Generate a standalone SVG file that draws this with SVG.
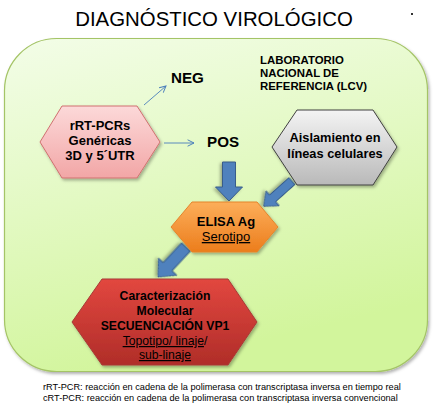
<svg xmlns="http://www.w3.org/2000/svg" width="433" height="409" viewBox="0 0 433 409">
<defs>
  <linearGradient id="gBg" x1="0" y1="0" x2="0.3" y2="1">
    <stop offset="0" stop-color="#f3fde8"/>
    <stop offset="1" stop-color="#d2f59c"/>
  </linearGradient>
  <linearGradient id="gPink" x1="0" y1="0" x2="0" y2="1">
    <stop offset="0" stop-color="#fcd9d9"/>
    <stop offset="1" stop-color="#f2a6a6"/>
  </linearGradient>
  <linearGradient id="gGray" x1="0" y1="0" x2="0" y2="1">
    <stop offset="0" stop-color="#f4f4f4"/>
    <stop offset="1" stop-color="#b9b9b9"/>
  </linearGradient>
  <linearGradient id="gOrange" x1="0" y1="0" x2="0" y2="1">
    <stop offset="0" stop-color="#fcae5a"/>
    <stop offset="1" stop-color="#ec7d1c"/>
  </linearGradient>
  <linearGradient id="gRed" x1="0" y1="0" x2="0" y2="1">
    <stop offset="0" stop-color="#e2473f"/>
    <stop offset="1" stop-color="#b02d29"/>
  </linearGradient>
  <filter id="sh" x="-10%" y="-10%" width="125%" height="130%">
    <feDropShadow dx="1.5" dy="2" stdDeviation="1.5" flood-color="#000" flood-opacity="0.3"/>
  </filter>
  <marker id="open" viewBox="0 0 10 10" refX="9" refY="5" markerWidth="8" markerHeight="8" markerUnits="userSpaceOnUse" orient="auto">
    <path d="M1,1 L9,5 L1,9" fill="none" stroke="#4a7ebb" stroke-width="1.2"/>
  </marker>
  <style>
    .t { font-family: "Liberation Sans", Arial, sans-serif; fill: #000; }
    .b { font-weight: bold; }
    .hex { filter: url(#sh); stroke-width: 1; }
    .blk { fill: #4f81bd; stroke: #385d8a; stroke-width: 1; filter: url(#sh); }
    .thin { stroke: #4a7ebb; stroke-width: 0.9; fill: none; marker-end: url(#open); }
    .u { text-decoration: underline; }
  </style>
</defs>

<rect width="433" height="409" fill="#ffffff"/>
<text class="t" x="214" y="26" font-size="20.4" text-anchor="middle">DIAGNÓSTICO VIROLÓGICO</text>
<rect x="411" y="13" width="2" height="2" fill="#333"/>

<g id="background">
  <rect x="4.5" y="38.5" width="423" height="333" rx="52" ry="52" fill="url(#gBg)" stroke="#a4c466" stroke-width="1.2" filter="url(#sh)"/>
</g>

<g id="lab-label">
  <text class="t b" font-size="11.4"><tspan x="260" y="64">LABORATORIO</tspan><tspan x="260" y="77">NACIONAL DE</tspan><tspan x="260" y="90">REFERENCIA (LCV)</tspan></text>
</g>

<g id="connectors">
  <line class="thin" x1="144" y1="105" x2="166" y2="86"/>
  <line class="thin" x1="164" y1="143" x2="194" y2="143"/>
  <path class="blk" transform="translate(229,162) rotate(90)" d="M0,-6.5 H25 V-13.5 L39,0 L25,13.5 V6.5 H0 Z"/>
  <path class="blk" transform="translate(292,181) rotate(138.2)" d="M0,-4.5 H26 V-10 L38,0 L26,10 V4.5 H0 Z"/>
  <path class="blk" transform="translate(186,247) rotate(133)" d="M0,-6 H27 V-12.5 L41,0 L27,12.5 V6 H0 Z"/>
</g>

<g id="neg">
  <text class="t b" x="171" y="83" font-size="15.2">NEG</text>
</g>
<g id="pos">
  <text class="t b" x="207" y="147" font-size="15.2">POS</text>
</g>

<g id="rrt-pcrs">
  <polygon class="hex" points="40,142 62,106 137,106 160,142 137,178 62,178" fill="url(#gPink)" stroke="#d07070"/>
  <text class="t b" font-size="13" text-anchor="middle"><tspan x="100" y="130">rRT-PCRs</tspan><tspan x="100" y="145">Genéricas</tspan><tspan x="100" y="160">3D y 5´UTR</tspan></text>
</g>

<g id="aislamiento">
  <polygon class="hex" points="272,147 297,110 373,110 397,147 373,185 297,185" fill="url(#gGray)" stroke="#404040"/>
  <text class="t b" font-size="12.8" text-anchor="middle"><tspan x="335" y="142">Aislamiento en</tspan><tspan x="335" y="158">líneas celulares</tspan></text>
</g>

<g id="elisa">
  <polygon class="hex" points="171,227 192,202 257,202 278,227 257,252 192,252" fill="url(#gOrange)" stroke="#e4842c"/>
  <text class="t b" x="226" y="226" font-size="13" text-anchor="middle">ELISA Ag</text>
  <text class="t u" x="226" y="241" font-size="13" text-anchor="middle">Serotipo</text>
</g>

<g id="caracterizacion">
  <polygon class="hex" points="72,322 102,279 228,279 257,322 228,365 102,365" fill="url(#gRed)" stroke="#a83a36"/>
  <text class="t b" font-size="12.2" text-anchor="middle"><tspan x="165" y="300">Caracterización</tspan><tspan x="165" y="315">Molecular</tspan><tspan x="165" y="330">SECUENCIACIÓN VP1</tspan></text>
  <text class="t" font-size="12.2" text-anchor="middle"><tspan x="165" y="345"><tspan class="u">Topotipo/ linaje</tspan>/</tspan><tspan x="165" y="359" class="u">sub-linaje</tspan></text>
</g>

<g id="footnotes">
  <text class="t" x="43" y="390" font-size="9.2">rRT-PCR: reacción en cadena de la polimerasa con transcriptasa inversa en tiempo real</text>
  <text class="t" x="43" y="401" font-size="9.2">cRT-PCR: reacción en cadena de la polimerasa con transcriptasa inversa convencional</text>
</g>
</svg>
